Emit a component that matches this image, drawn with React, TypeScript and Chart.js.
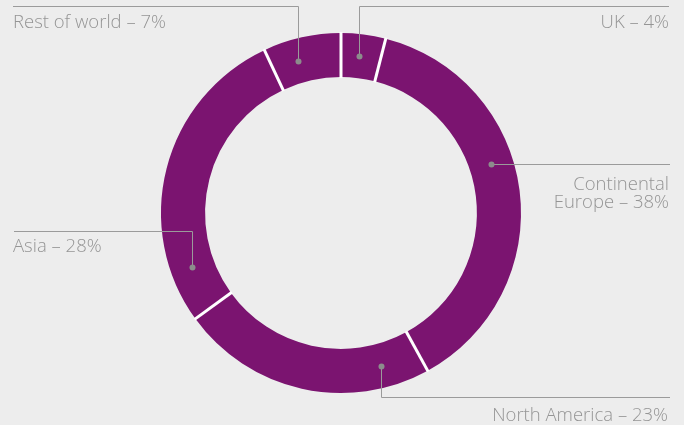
import React, { useEffect, useRef } from "react";
import { Chart, registerables } from "chart.js";

Chart.register(...registerables);

// ---- data ----
const categories = ["UK", "Continental Europe", "North America", "Asia", "Rest of world"];
const shares = [4, 38, 23, 28, 7];

// ---- style / layout constants ----
const BG = "#ededed";
const PURPLE = "#7b1470";
const TEXT_GREY = "#959595";
const LINE_GREY = "#9b9b9b";
const DOT_GREY = "#8c8c8c";
const FONT = "300 18.5px 'Open Sans', sans-serif";

// leader-line layout per segment: dot position within the arc (fraction of its sweep),
// elbow y (or null for straight horizontal), line end x, text alignment and baselines
const leaderLayout = [
  { frac: 0.46, elbowY: 6.5, endX: 669, align: "right", textX: 669, baselines: [28], wrap: false },
  { frac: 0.42, elbowY: null, endX: 670, align: "right", textX: 669, baselines: [189.5, 208], wrap: true },
  { frac: 0.17, elbowY: 397.5, endX: 670, align: "right", textX: 668, baselines: [421], wrap: false },
  { frac: 0.16, elbowY: 231.5, endX: 14, align: "left", textX: 13, baselines: [251.5], wrap: false },
  { frac: 0.38, elbowY: 6.5, endX: 13, align: "left", textX: 13, baselines: [28], wrap: false },
];

const separatorPlugin = {
  id: "separators",
  afterDatasetsDraw(chart: any) {
    const ctx = chart.ctx as CanvasRenderingContext2D;
    const meta = chart.getDatasetMeta(0);
    ctx.save();
    ctx.strokeStyle = "#ffffff";
    ctx.lineWidth = 3;
    meta.data.forEach((arc: any) => {
      const { x, y, startAngle, innerRadius, outerRadius } = arc.getProps(
        ["x", "y", "startAngle", "innerRadius", "outerRadius"],
        true
      );
      const c = Math.cos(startAngle);
      const s = Math.sin(startAngle);
      ctx.beginPath();
      ctx.moveTo(x + c * (innerRadius - 1), y + s * (innerRadius - 1));
      ctx.lineTo(x + c * (outerRadius + 1), y + s * (outerRadius + 1));
      ctx.stroke();
    });
    ctx.restore();
  },
};

const leaderPlugin = {
  id: "leaders",
  afterDraw(chart: any) {
    const ctx = chart.ctx as CanvasRenderingContext2D;
    const meta = chart.getDatasetMeta(0);
    const values = chart.data.datasets[0].data as number[];
    const labels = chart.data.labels as string[];
    meta.data.forEach((arc: any, i: number) => {
      const cfg = leaderLayout[i];
      if (!cfg) return;
      const { x, y, startAngle, endAngle, innerRadius, outerRadius } = arc.getProps(
        ["x", "y", "startAngle", "endAngle", "innerRadius", "outerRadius"],
        true
      );
      const a = startAngle + cfg.frac * (endAngle - startAngle);
      const r = (innerRadius + outerRadius) / 2;
      const dx = x + Math.cos(a) * r;
      const dy = y + Math.sin(a) * r;
      const lx = Math.round(dx) + 0.5;
      const ly = Math.round(dy) + 0.5;

      ctx.save();
      ctx.strokeStyle = LINE_GREY;
      ctx.lineWidth = 1;
      ctx.beginPath();
      ctx.moveTo(lx, ly);
      if (cfg.elbowY !== null) {
        ctx.lineTo(lx, cfg.elbowY);
        ctx.lineTo(cfg.endX, cfg.elbowY);
      } else {
        ctx.lineTo(cfg.endX, ly);
      }
      ctx.stroke();

      ctx.fillStyle = DOT_GREY;
      ctx.beginPath();
      ctx.arc(lx, ly, 3, 0, Math.PI * 2);
      ctx.fill();

      const text = `${labels[i]} – ${values[i]}%`;
      let lines: string[] = [text];
      if (cfg.wrap) {
        const sp = text.indexOf(" ");
        lines = [text.slice(0, sp), text.slice(sp + 1)];
      }
      ctx.fillStyle = TEXT_GREY;
      ctx.font = FONT;
      ctx.textAlign = cfg.align as CanvasTextAlign;
      ctx.textBaseline = "alphabetic";
      lines.forEach((ln, k) => ctx.fillText(ln, cfg.textX, cfg.baselines[k]));
      ctx.restore();
    });
  },
};

const bgPlugin = {
  id: "bg",
  beforeDraw(chart: any) {
    const ctx = chart.ctx;
    ctx.save();
    ctx.fillStyle = BG;
    ctx.fillRect(0, 0, chart.width, chart.height);
    ctx.restore();
  },
};

export default function App() {
  const ref = useRef<HTMLCanvasElement | null>(null);
  useEffect(() => {
    if (!ref.current) return;
    const chart = new Chart(ref.current, {
      type: "doughnut",
      data: {
        labels: categories,
        datasets: [
          {
            data: shares,
            backgroundColor: PURPLE,
            borderWidth: 0,
          },
        ],
      },
      options: {
        responsive: false,
        animation: false,
        devicePixelRatio: 1,
        radius: 180,
        cutout: "75.5%",
        layout: { padding: { left: 0, right: 2, top: 1, bottom: 0 } },
        plugins: {
          legend: { display: false },
          tooltip: { enabled: false },
        },
      } as any,
      plugins: [bgPlugin, separatorPlugin, leaderPlugin],
    });
    return () => chart.destroy();
  }, []);
  return (
    <div style={{ position: "fixed", left: 0, top: 0, width: 684, height: 425, background: BG }}>
      <canvas ref={ref} width={684} height={425} style={{ display: "block" }} />
    </div>
  );
}
